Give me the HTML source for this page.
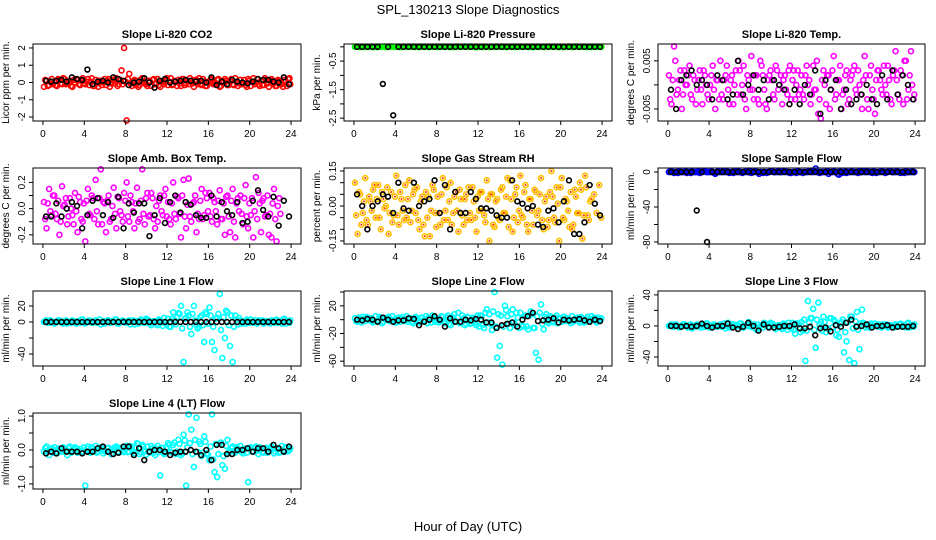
<!DOCTYPE html>
<html><head><meta charset="utf-8"><title>SPL_130213 Slope Diagnostics</title>
<style>
html,body{margin:0;padding:0;background:#fff;}
svg{display:block;font-family:"Liberation Sans",Arial,sans-serif;}
</style></head>
<body>
<svg id="chart" width="936" height="540" viewBox="0 0 936 540" xmlns="http://www.w3.org/2000/svg">
<text x="468" y="14" text-anchor="middle" font-size="13">SPL_130213  Slope Diagnostics</text>
<text x="468" y="531" text-anchor="middle" font-size="13">Hour of Day (UTC)</text>
</svg>
<script>
// x positions (hour of day) of the colored (per-sample) series: 4 per hour
const colorHours = [
0.1,0.35,0.6,0.85, 1.1,1.35,1.6,1.85, 2.1,2.35,2.6,2.85, 3.1,3.35,3.6,3.85,
4.1,4.35,4.6,4.85, 5.1,5.35,5.6,5.85, 6.1,6.35,6.6,6.85, 7.1,7.35,7.6,7.85,
8.1,8.35,8.6,8.85, 9.1,9.35,9.6,9.85, 10.1,10.35,10.6,10.85, 11.1,11.35,11.6,11.85,
12.1,12.35,12.6,12.85, 13.1,13.35,13.6,13.85, 14.1,14.35,14.6,14.85, 15.1,15.35,15.6,15.85,
16.1,16.35,16.6,16.85, 17.1,17.35,17.6,17.85, 18.1,18.35,18.6,18.85, 19.1,19.35,19.6,19.85,
20.1,20.35,20.6,20.85, 21.1,21.35,21.6,21.85, 22.1,22.35,22.6,22.85, 23.1,23.35,23.6,23.85];
// second batch of per-sample hours
const colorHours2 = [
0.22,0.47,0.72,0.97, 1.22,1.47,1.72,1.97, 2.22,2.47,2.72,2.97, 3.22,3.47,3.72,3.97,
4.22,4.47,4.72,4.97, 5.22,5.47,5.72,5.97, 6.22,6.47,6.72,6.97, 7.22,7.47,7.72,7.97,
8.22,8.47,8.72,8.97, 9.22,9.47,9.72,9.97, 10.22,10.47,10.72,10.97, 11.22,11.47,11.72,11.97,
12.22,12.47,12.72,12.97, 13.22,13.47,13.72,13.97, 14.22,14.47,14.72,14.97, 15.22,15.47,15.72,15.97,
16.22,16.47,16.72,16.97, 17.22,17.47,17.72,17.97, 18.22,18.47,18.72,18.97, 19.22,19.47,19.72,19.97,
20.22,20.47,20.72,20.97, 21.22,21.47,21.72,21.97, 22.22,22.47,22.72,22.97, 23.22,23.47,23.72,23.92];
// x positions of the black (summary) series: 2 per hour
const blackHours = [
0.3,0.8, 1.3,1.8, 2.3,2.8, 3.3,3.8, 4.3,4.8, 5.3,5.8, 6.3,6.8, 7.3,7.8,
8.3,8.8, 9.3,9.8, 10.3,10.8, 11.3,11.8, 12.3,12.8, 13.3,13.8, 14.3,14.8, 15.3,15.8,
16.3,16.8, 17.3,17.8, 18.3,18.8, 19.3,19.8, 20.3,20.8, 21.3,21.8, 22.3,22.8, 23.3,23.8];
const xTicks = [0,4,8,12,16,20,24];

// ---- series values (integers, multiplied by each panel's unit scale) ----
const co2Color = [-25,10,-15,20, 5,-20,15,-10, 20,-5,10,-25, 0,15,-15,25, -10,20,5,-20, 15,-25,10,0,
 -15,20,-5,10, 25,-10,70,200, -220,50,-20,15, 10,-15,25,-5, -20,5,15,-10, 20,-25,0,10,
 -15,25,-10,5, 15,-20,20,-5, -10,10,-25,15, 25,-15,5,-20, 0,20,-10,15, -25,10,20,-15,
 5,-10,25,-20, 15,-5,-15,20, -20,25,0,-10, 10,-15,15,-25, 20,-5,-20,10, -10,15,-20,25];
const co2Color2 = [15,-20,5,-10, -15,20,-5,25, -10,5,-20,15, 20,-10,10,-5, 5,-15,25,-20, -5,10,-15,20,
 10,-25,15,-5, -20,15,-10,5, 20,-5,10,-15, -25,15,5,-10, 10,-20,20,-5, -15,5,-10,25,
 5,-15,10,-20, -5,20,-15,10, 25,-5,15,-10, -10,20,-20,5, 15,-10,-5,20, -20,5,10,-15,
 20,-15,5,-5, -10,15,-25,10, 5,-10,20,-20, -15,25,-5,10, 10,-20,15,-5, -25,5,20,-10];
const co2Black = [10,5, 10,15, 5,30, 20,15, 75,-10, 5,10, 0,30, 20,10, -15,0, 5,25, 0,-30, 10,20,
 0,5, 10,15, 10,5, 10,0, 30,-15, 5,-10, 15,5, 0,-5, 5,20, 15,15, 5,0, 30,-10];
const presColor = [0,1,-1,0, 1,0,0,-1, 0,1,0,0, -1,0,1,0, 0,0,-1,1, 0,1,0,0, 0,-1,0,1, 0,0,1,0,
 -1,0,0,1, 0,0,-1,0, 1,0,0,0, 0,1,0,-1, 0,0,1,0, -1,0,0,1, 0,1,0,0, 0,0,-1,0,
 1,0,0,0, 0,-1,0,1, 0,0,1,0, 0,1,0,-1, 0,0,0,1, -1,0,1,0, 0,0,-1,0, 1,0,0,0];
const presColor2 = [1,0,0,-1, 0,0,1,0, -1,0,0,1, 0,1,0,0, 1,-1,0,0, 0,0,1,-1, 0,1,0,0, -1,0,0,1,
 0,1,0,0, -1,0,0,1, 0,0,1,0, 1,0,0,-1, 0,-1,0,0, 0,0,1,0, 1,0,-1,0, 0,1,0,0,
 0,0,1,-1, 1,0,0,0, 0,-1,0,1, 0,0,0,1, -1,0,1,0, 0,1,0,0, 1,0,0,-1, 0,0,1,0];
const presBlack = [0,0, 0,0, 0,-130, 0,-240, 0,0, 0,0, 0,0, 0,0, 0,0, 0,0, 0,0, 0,0,
 0,0, 0,0, 0,0, 0,0, 0,0, 0,0, 0,0, 0,0, 0,0, 0,0, 0,0, 0,0];
const licTempColor = [2,-4,8,-2, 1,-5,3,0, 4,-3,1,-1, 3,-4,2,-2, 0,4,-5,1, 5,-3,2,-1, 1,-4,3,5,
 -2,4,-5,1, 6,-3,2,-4, 4,-1,-5,2, 1,-3,3,0, -4,2,-2,4, 1,-3,3,-1, -2,2,0,-4,
 4,-1,-6,-7, 3,-4,2,-1, 6,-2,1,-5, -1,3,-3,2, 4,-2,0,-5, 6,-3,2,-1, -6,3,1,-2,
 0,4,-3,2, 7,-2,3,-4, 5,-1,7,-3, 2,-4,5,0];
const licTempColor2 = [-3,1,5,-1, 3,-2,0,2, -2,2,-4,1, -1,3,0,-3, 2,-1,1,-3, -2,1,4,-4, 2,0,-2,3,
 0,-3,2,-1, -1,2,-3,5, 2,-4,1,3, -2,4,-1,2, 1,-1,3,-3, 3,0,-2,2, -3,4,1,-2,
 -1,5,-3,1, 0,2,-5,3, -3,1,4,-2, 2,-4,1,3, -1,3,-2,1, 2,-5,4,-3, 1,3,-1,4,
 -2,1,-4,3, 1,-3,2,5, -3,2,0,-2, 4,-1,1,-3];
const licTempBlack = [-1,-5, 1,2, 3,0, 1,0, -3,2, 1,-3, -2,5, -2,0, 2,-1, 1,-3, 1,0, -1,-4,
 -1,-4, 0,-2, 3,-6, 1,-1, 1,-5, -1,-4, -3,-2, 0,-3, -4,2, -3,3, -2,2, 0,-3];
const ambColor = [5,-15,15,-5, 10,-8,-20,17, 3,-12,8,-5, 12,-18,5,-10, -25,15,-5,8, 22,-12,30,5, -18,10,-8,16,
 -15,8,-5,12, 20,-10,5,-15, 16,-8,30,-12, 12,-5,8,-15, -10,10,-5,15, 5,-12,20,-8,
 8,-22,22,-15, 23,-10,5,-18, -8,15,-5,8, 12,-10,5,-12, 14,-8,-20,10, -18,15,-22,8,
 10,-12,18,-15, -5,-22,24,12, -18,8,-5,-20, -22,15,-25,8];
const ambColor2 = [-8,4,-2,10, -4,6,-10,2, 8,-6,0,-12, -2,9,-8,4, 6,-4,10,-8, -2,8,-12,4, 6,-10,2,-4,
 9,-2,-10,6, -6,10,-2,4, -10,6,-4,8, -6,12,-8,2, 6,-2,10,-6, -8,4,-4,9,
 -4,10,-6,3, -6,4,10,-4, 6,-8,12,-2, -6,8,-2,6, -8,4,9,-6, 6,-10,4,-2,
 -4,8,-6,4, 8,-2,-8,4, 6,-6,10,-4, 4,-8,2,-4];
const ambBlack = [-6,-6, 4,-6, 0,5, 2,-15, -5,6, 8,-5, 5,-7, 9,-15, 4,-3, 4,4, -21,-5, 8,-11,
 5,10, -3,5, 3,-5, -7,-7, 10,-6, 5,-2, -5,5, -11,-10, 6,14, -1,-6, 9,-13, 6,-6];
const rhColor = [10,-12,5,-3, 12,-8,2,7, -5,9,-10,3, 0,-12,6,-4, 13,-8,3,-6, -5,11,-2,7, 8,-10,4,-13,
 -5,-13,9,-3, 4,-8,12,-2, -6,10,-3,6, -11,3,-8,5, 8,-6,2,-11, -2,6,-4,11,
 -15,5,-9,3, -6,8,-3,12, 11,-11,5,-7, 13,-5,9,-11, 3,-8,6,-2, 12,-10,4,-6,
 15,-5,8,-15, 12,-6,2,-9, -10,7,-3,10, -14,13,-4,2];
const rhColor2 = [-4,6,-8,2, -6,4,-2,9, 3,-5,6,-1, 8,-3,-7,4, -4,6,-2,9, 3,-7,5,-3, -6,2,-8,6,
 4,-2,7,-9, -3,5,-6,8, 2,-8,4,-2, 7,-4,3,-6, -3,8,-5,4, 6,-2,-7,3, 5,-8,2,-5,
 7,-3,4,-9, 3,-5,8,-2, -4,6,-8,3, -2,7,-4,5, -6,2,-9,6, 4,-7,1,8, -5,3,-2,6,
 -8,4,-3,7, -4,8,-6,3, 5,-3,9,-5, 6,-8,4,-2];
const rhBlack = [5,0, -10,0, 2,5, 4,-3, 10,-1, -2,10, 0,2, 3,11, -3,9, -10,6, -3,-3, 6,3,
 -1,-1, -2,-4, -5,-5, 11,2, 1,-1, 0,-8, -9,-2, -1,-7, 2,11, -12,-12, -7,9, 1,-4];
const sampleColor = [0,1,-1,0, 1,0,0,-1, 0,1,0,0, -1,0,1,0, 0,0,-2,1, 0,1,0,0, 0,-1,0,1, 0,0,1,0,
 -1,0,0,-2, 0,0,-1,0, 1,0,0,0, 0,1,0,-1, 0,0,1,0, -1,0,0,1, 0,4,0,0, 0,0,-2,0,
 1,0,-3,0, 0,-1,0,1, 0,0,1,0, 0,1,0,-1, 0,0,0,1, -1,0,1,0, 0,0,-1,0, 1,0,0,0];
const sampleColor2 = [1,0,0,-1, 0,0,1,0, -1,0,0,1, 0,1,0,0, 1,-1,0,0, 0,0,1,-1, 0,1,0,0, -1,0,0,1,
 0,1,0,0, -1,0,0,1, 0,0,1,0, 1,0,0,-1, 0,-1,0,0, 0,0,1,0, 1,0,-1,0, 0,1,0,0,
 0,-2,1,-1, 1,0,0,0, 0,-1,0,1, 0,0,0,1, -1,0,1,0, 0,1,0,0, 1,0,0,-1, 0,0,1,0];
const sampleBlack = [0,0, 0,0, 0,-44, 0,-80, 0,0, 0,0, 0,0, 0,0, 0,0, 0,0, 0,0, 0,0,
 0,0, 0,0, 0,0, 0,0, 0,0, 0,0, 0,0, 0,0, 0,0, 0,0, 0,0, 0,0];
const line1Color = [0,2,-1,1, -2,0,2,-1, 1,-2,0,2, 0,1,-1,3, -2,1,0,-1, 2,0,-3,1, 0,2,-1,0, 3,-2,1,0,
 -1,2,0,-3, 1,0,2,-1, 3,-2,0,1, -4,2,-5,0, 4,-6,12,-3, 11,20,-50,5, 8,-15,20,-4,
 -6,8,-25,10, 18,-25,-35,5, 35,-45,-20,12, -30,-50,8,-3, 2,0,-2,1, 3,-1,0,2, 0,-2,1,0,
 2,-1,3,0, -2,4,1,-1, 0,2,-1,1, 1,0,-2,2];
const line1Color2 = [1,-1,2,0, -1,2,0,-2, 2,0,-1,1, -2,1,3,-1, 0,2,-1,1, -1,3,0,-2, 2,-1,1,3, -2,0,2,-1,
 1,-3,2,0, -2,3,-1,4, 2,-4,1,-2, 3,-1,5,-3, -6,4,2,6, 10,-8,4,12, -6,10,2,-8,
 6,-4,12,-2, 8,-6,4,10, -10,6,14,-4, 8,-6,3,5, -2,1,3,-1, 0,2,-2,1, 2,-1,0,-2,
 1,2,-1,0, 3,-2,1,2, -1,0,2,-1, 0,1,-1,2];
const line1Black = [0,0, 0,0, 0,0, 0,0, 0,0, 0,0, 0,0, 0,0, 0,0, 0,0, 0,0, 0,0,
 0,0, 0,0, 0,0, 0,0, 0,0, 0,0, 0,0, 0,0, 0,0, 0,0, 0,0, 0,0];
const line2Color = [2,-3,1,4, -2,3,0,-4, 5,-1,2,-3, 1,4,-2,0, -4,3,1,-2, 5,0,-3,2, 1,-4,3,0, -5,2,6,-3,
 1,-2,4,-5, 6,-8,3,-2, 10,-4,2,-6, 3,-5,1,-8, -10,5,-12,15, 8,-15,40,-55,
 -38,-65,20,5, -12,15,-8,3, 10,-10,6,-14, 12,-12,-48,-58, 22,-14,8,-5, 3,-4,6,2,
 -3,4,0,-2, 5,-1,3,-4, 2,-3,4,0, 1,-2,3,-1];
const line2Color2 = [-2,3,-4,1, 4,-1,2,-3, -2,4,-5,1, 3,-2,5,-4, 2,-3,4,-1, -3,2,-5,4, -2,3,-1,5, 3,-4,2,-1,
 -4,5,-2,3, -6,4,8,-3, -5,6,-8,4, -6,3,-4,6, 6,-8,10,-4, -6,12,-10,8,
 6,-10,14,-6, 8,-4,10,-12, -8,5,-10,6, 8,-12,5,10, -6,4,-3,5, -2,3,-5,1,
 4,-2,2,-5, -3,2,-2,4, -4,1,-3,5, 3,-4,1,2];
const line2Black = [0,-1, 1,0, -3,3, 0,-3, -1,-1, 2,1, -8,-3, 0,5, 0,-10, 2,-3, -3,0, -1,1,
 0,-4, -4,-12, -8,-6, -4,-10, 0,5, 10,-2, -1,0, 2,-4, 0,-1, 0,1, -1,-3, 0,-2];
const line3Color = [0,2,-1,1, -2,0,2,-1, 1,-3,0,2, 0,1,-1,3, -2,1,0,-1, 2,0,-3,4, 0,2,-1,0, 3,-2,1,5,
 -1,2,-5,-3, 1,4,2,-1, 3,-2,0,1, -4,2,-5,0, 4,-10,3,-8, -6,-45,32,10, 22,-28,30,5,
 12,-8,-4,10, 8,-12,-14,5, -34,-20,-44,12, -48,18,-30,21, 2,0,-2,1, 3,-1,0,2, 0,-2,1,0,
 2,-1,3,0, -2,4,1,-1, 0,2,-1,1, 1,0,-2,2];
const line3Color2 = [1,-1,2,0, -1,2,0,-2, 2,0,-1,1, -2,1,3,-1, 0,2,-1,1, -1,3,0,-2, 2,-1,1,3, -2,0,2,-1,
 1,-3,2,0, -2,3,-1,4, 2,-4,1,-2, 3,-1,4,-3, -5,3,2,5, 8,-6,4,10, -5,8,2,-6,
 5,-3,10,-2, 6,-5,3,8, -8,5,12,-3, 6,-5,3,4, -2,1,3,-1, 0,2,-2,1, 2,-1,0,-2,
 1,2,-1,0, 3,-2,1,2, -1,0,2,-1, 0,1,-1,2];
const line3Black = [0,0, -1,0, -1,0, 3,0, -2,0, 0,3, -2,-4, -1,4, 0,-6, 2,-2, -2,-1, 0,0,
 2,-3, -3,-1, -12,-3, -2,-7, 1,-1, 4,8, -1,0, 2,-2, 0,0, 1,-2, -1,-1, -1,0];
const line4Color = [-5,10,-15,5, 8,-10,2,-5, 5,-15,10,-3, 8,-8,3,-5, -105,10,-8,4, 12,-5,8,-10, -3,6,-12,5, 10,-8,4,-6,
 12,-5,8,-10, 20,-12,15,-5, 10,-8,5,-15, 12,-75,6,-10, 20,-5,15,-12, 30,-15,45,-105,
 105,60,-50,95, 25,-18,40,-10, -30,105,-65,-80, 20,-45,-55,30, -5,10,-8,5, 12,-10,3,-95,
 8,-5,10,-12, 4,-8,6,-3, 10,-10,5,-8, 12,-5,8,0];
const line4Color2 = [6,-4,2,-8, -6,4,-2,8, -4,6,-8,2, 5,-2,-6,8, 4,-6,8,-2, -8,2,5,-4, 6,-3,2,8, -5,6,-2,4,
 -6,12,-4,6, 18,-6,10,-14, -4,12,-8,4, -6,6,-12,8, 15,-8,22,-5, 18,-10,28,8,
 20,-12,30,-6, 18,-8,24,-14, 10,-28,18,-12, 22,-18,12,-6, 6,-4,8,-2, -6,4,-8,6,
 -4,6,-2,8, -6,4,-8,2, 6,-4,2,-6, -2,8,-4,5];
const line4Black = [-10,-5, -10,5, -5,-5, -5,-10, -5,-5, 5,10, -5,-12, -8,10, 10,-15, 5,-30, -5,0, 0,-5,
 -15,-8, -5,-5, 0,-5, -15,0, -30,15, 15,-12, -12,0, 0,5, -5,5, 5,-5, 15,5, -5,10];

// ---- panel layout (positions in px; not data) ----
const colX = [[33,301],[344,612],[658,925]];
const rowY = [[44,121],[168,244],[291,366],[413,489]];
const NS = "http://www.w3.org/2000/svg";
const svg = document.getElementById('chart');

const panels = [
 {name:'co2', title:'Slope Li-820 CO2', ylab:'Licor ppm per min.', col:0,row:0, ylim:[-2.23,2.23], scale:0.01,
  ticks:[-2,-1,0,1,2], labels:['-2','-1','0','1','2'], color:'#ff0000', cv:co2Color, cv2:co2Color2, bv:co2Black},
 {name:'pressure', title:'Slope Li-820 Pressure', ylab:'kPa per min.', col:1,row:0, ylim:[-2.6,0.1], scale:0.01,
  ticks:[0,-0.5,-1,-1.5,-2,-2.5], labels:['','-0.5','','-1.5','','-2.5'], color:'#00ff00', cv:presColor, cv2:presColor2, bv:presBlack},
 {name:'li820-temp', title:'Slope Li-820 Temp.', ylab:'degrees C per min.', col:2,row:0, ylim:[-0.0075,0.0085], scale:0.001,
  ticks:[-0.005,0,0.005], labels:['-0.005','','0.005'], color:'#ff00ff', cv:licTempColor, cv2:licTempColor2, bv:licTempBlack},
 {name:'amb-box-temp', title:'Slope Amb. Box Temp.', ylab:'degrees C per min.', col:0,row:1, ylim:[-0.27,0.31], scale:0.01,
  ticks:[-0.2,-0.1,0,0.1,0.2], labels:['-0.2','','0.0','','0.2'], color:'#ff00ff', cv:ambColor, cv2:ambColor2, bv:ambBlack},
 {name:'gas-stream-rh', title:'Slope Gas Stream RH', ylab:'percent per min.', col:1,row:1, ylim:[-0.163,0.163], scale:0.01,
  ticks:[-0.15,-0.1,-0.05,0,0.05,0.1,0.15], labels:['-0.15','','','0.00','','','0.15'], color:'#ffc000', fill:'#ff3300', cv:rhColor, cv2:rhColor2, bv:rhBlack},
 {name:'sample-flow', title:'Slope Sample Flow', ylab:'ml/min per min.', col:2,row:1, ylim:[-82.3,4.6], scale:1,
  ticks:[0,-20,-40,-60,-80], labels:['0','','-40','','-80'], color:'#0000ff', cv:sampleColor, cv2:sampleColor2, bv:sampleBlack},
 {name:'line1-flow', title:'Slope Line 1 Flow', ylab:'ml/min per min.', col:0,row:2, ylim:[-55,38.7], scale:1,
  ticks:[20,0,-20,-40], labels:['20','0','','-40'], color:'#00ffff', cv:line1Color, cv2:line1Color2, bv:line1Black},
 {name:'line2-flow', title:'Slope Line 2 Flow', ylab:'ml/min per min.', col:1,row:2, ylim:[-67,41.5], scale:1,
  ticks:[40,20,0,-20,-40,-60], labels:['','20','','-20','','-60'], color:'#00ffff', cv:line2Color, cv2:line2Color2, bv:line2Black},
 {name:'line3-flow', title:'Slope Line 3 Flow', ylab:'ml/min per min.', col:2,row:2, ylim:[-51.6,45], scale:1,
  ticks:[40,20,0,-20,-40], labels:['40','','0','','-40'], color:'#00ffff', cv:line3Color, cv2:line3Color2, bv:line3Black},
 {name:'line4-flow', title:'Slope Line 4 (LT) Flow', ylab:'ml/min per min.', col:0,row:3, ylim:[-1.15,1.09], scale:0.01,
  ticks:[1,0.5,0,-0.5,-1], labels:['1.0','','0.0','','-1.0'], color:'#00ffff', cv:line4Color, cv2:line4Color2, bv:line4Black}
];

function mk(tag, attrs, parent){
  const e = document.createElementNS(NS, tag);
  for (const k in attrs) e.setAttribute(k, attrs[k]);
  (parent||svg).appendChild(e);
  return e;
}

panels.forEach(p => {
  const [L,R] = colX[p.col], [T,B] = rowY[p.row];
  const xlo = -0.96, xhi = 24.96;
  const xs = h => L + (h - xlo) / (xhi - xlo) * (R - L);
  const ys = v => B - (v - p.ylim[0]) / (p.ylim[1] - p.ylim[0]) * (B - T);
  const g = mk('g', {});
  
  

  const t = mk('text', {x:(L+R)/2, y:T-6, 'text-anchor':'middle', 'font-size':11, 'font-weight':'bold'}, g);
  t.textContent = p.title;
  
  

  const yl = mk('text', {x:0, y:0, 'text-anchor':'middle', 'font-size':10,
    transform:'translate(' + (L-24) + ',' + ((T+B)/2) + ') rotate(-90)'}, g);
  yl.textContent = p.ylab;
  
  

  // colored points (two batches)
  [[colorHours, p.cv], [colorHours2, p.cv2]].forEach(([hrs, vals]) => {
    vals.forEach((v, i) => {
      if (i >= hrs.length) return;
      const c = mk('circle', {cx:xs(hrs[i]), cy:ys(v*p.scale), r:2.5, fill:'none',
        stroke:p.color, 'stroke-width':1.6}, g);
      
      
      if (p.fill) {
        const d = mk('circle', {cx:xs(hrs[i]), cy:ys(v*p.scale), r:1, fill:p.fill}, g);
        
        
      }
    });
  });
  // black points
  p.bv.forEach((v, i) => {
    if (i >= blackHours.length) return;
    const c = mk('circle', {cx:xs(blackHours[i]), cy:ys(v*p.scale), r:2.4, fill:'none',
      stroke:'#000', 'stroke-width':1.6}, g);
    
    
  });

  const box = mk('rect', {x:L, y:T, width:R-L, height:B-T, fill:'none', stroke:'#000', 'stroke-width':1}, g);
  
  

  // x axis
  mk('line', {x1:xs(xTicks[0]), x2:xs(xTicks[xTicks.length-1]), y1:B, y2:B, stroke:'#000'}, g);
  xTicks.forEach(h => {
    mk('line', {x1:xs(h), x2:xs(h), y1:B, y2:B+4, stroke:'#000'}, g);
    const tl = mk('text', {x:xs(h), y:B+16, 'text-anchor':'middle', 'font-size':10}, g);
    tl.textContent = h;
    
    
  });
  // y axis
  const ty = p.ticks.map(v => ys(v));
  mk('line', {x1:L, x2:L, y1:Math.min(...ty), y2:Math.max(...ty), stroke:'#000'}, g);
  p.ticks.forEach((v, i) => {
    mk('line', {x1:L-4, x2:L, y1:ys(v), y2:ys(v), stroke:'#000'}, g);
    if (p.labels[i]) {
      const tl = mk('text', {x:0, y:0, 'text-anchor':'middle', 'font-size':10,
        transform:'translate(' + (L-8) + ',' + ys(v) + ') rotate(-90)'}, g);
      tl.textContent = p.labels[i];
      
      
    }
  });
});
</script>
</body></html>
